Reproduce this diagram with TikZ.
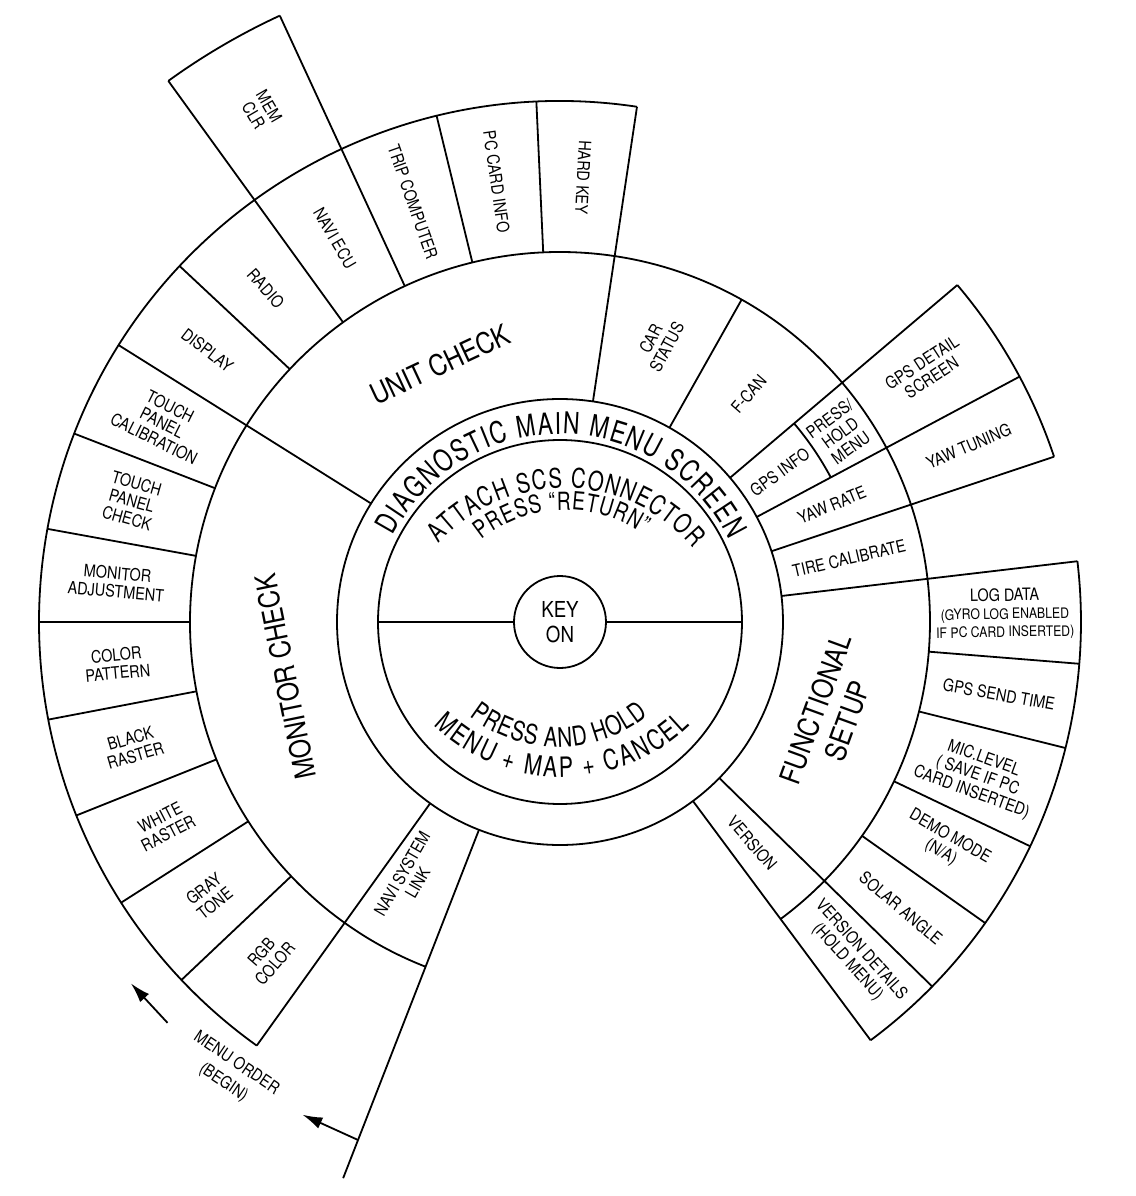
\documentclass[tikz,border=0pt]{standalone}
\usepackage{fontspec}
\setmainfont{TeX Gyre Heros}[FakeStretch=0.85]
\newfontfamily\arcfont{TeX Gyre Heros}[FakeStretch=0.76]
\usetikzlibrary{arrows.meta, decorations.text}
\tikzset{
  boxlbl/.style={font=\fontsize{8.5}{9}\selectfont, align=center, inner sep=0pt},
  ringlbl/.style={font=\fontsize{14.5}{17}\selectfont, align=center, inner sep=0pt},
  arclbl/.style={decorate, decoration={text along path, text align=fit to path, text={#1}}}
}

\begin{document}
\begin{tikzpicture}[x=0.5pt, y=0.5pt, line width=0.9pt]
    \useasboundingbox (-560,-574) rectangle (576,622);
    % hub
    \node[circle, draw, minimum size=46pt, inner sep=0pt, align=center,
      font=\fontsize{11}{12.5}\selectfont] (keyon) at (0,0) {KEY\\ON};
    \draw (0,0) circle[radius=182];
    \draw (0,0) circle[radius=223];
    \coordinate (hubW) at (180:182);
    \coordinate (hubE) at (0:182);
    \draw (keyon.west) -- (hubW);
    \draw (keyon.east) -- (hubE);
    % arcs
    \foreach \a/\b/\r in {-53.4/248.7/370, -53.4/6.7/521, 18.5/40.3/521,
        81.5/234.4/521, 114.8/125.9/668, 28.1/40.3/307} {
      \draw (\a:\r) arc[start angle=\a, end angle=\b, radius=\r];
    }
    % spokes
    \foreach \a/\ri/\ro in {81.5/223/521, 40.3/223/521, 28.1/223/521,
        18.5/223/521, 6.7/223/521, -44.4/223/521, -53.4/223/521,
        147.9/223/521, 234.4/223/521, 60.6/223/370,
        92.6/370/521, 103.7/370/521, 136.9/370/521, 158.8/370/521,
        169.7/370/521, 180/370/521, 190.8/370/521, 201.8/370/521,
        212.6/370/521, 223.4/370/521, -4.6/370/521, -14/370/521,
        -25.5/370/521, -35.3/370/521, 114.8/370/668, 125.9/370/668,
        248.7/223/597} {
      \draw (\a:\ri) -- (\a:\ro);
    }
    % ring texts (centre x/y, radius, from, to)
    \path[arclbl={|\arcfont\fontsize{15}{15}\selectfont|DIAGNOSTIC MAIN MENU SCREEN}]
      (152.6:188) arc[start angle=152.6, end angle=25.9, radius=188];
    \path[arclbl={|\arcfont\fontsize{13.5}{13.5}\selectfont|ATTACH SCS CONNECTOR}]
      ({4+169*cos(138)},{-35+169*sin(138)}) arc[start angle=138, end angle=40, radius=169];
    \path[arclbl={|\arcfont\fontsize{12.5}{12.5}\selectfont|PRESS “RETURN”}]
      ({6+134*cos(129)},{-22+134*sin(129)}) arc[start angle=129, end angle=55, radius=134];
    \path[arclbl={|\arcfont\fontsize{13.5}{13.5}\selectfont|PRESS AND HOLD}]
      ({-2+143*cos(232)},{18+143*sin(232)}) arc[start angle=232, end angle=309, radius=143];
    \path[arclbl={|\arcfont\fontsize{14}{14}\selectfont|MENU + MAP + CANCEL}]
      ({2+185*cos(226)},{30+185*sin(226)}) arc[start angle=226, end angle=314, radius=185];
    % sections
    \node[ringlbl, rotate=25] (unitchk) at (115:284) {UNIT CHECK};
    \node[ringlbl, rotate=101.5] (monchk) at (191.3:280) {MONITOR CHECK};
    \node[ringlbl, rotate=70] (funcsetup) at (-18.9:287) {FUNCTIONAL\\SETUP};
    % left boxes
    \foreach \n/\a/\txt in {hardkey/87/{HARD KEY}, pccard/98.2/{PC CARD INFO},
        tripcomp/109.3/{TRIP COMPUTER}, naviecu/120.4/{NAVI ECU},
        radio/131.4/{RADIO}, display/142.4/{DISPLAY},
        tpcal/153.4/{TOUCH\\PANEL\\CALIBRATION}, tpchk/164.2/{TOUCH\\PANEL\\CHECK},
        monadj/174.9/{MONITOR\\ADJUSTMENT}, colpat/185.4/{COLOR\\PATTERN},
        blkras/196.3/{BLACK\\RASTER}, whtras/207.2/{WHITE\\RASTER},
        graytone/218/{GRAY\\TONE}, rgbcol/229/{RGB\\COLOR}} {
      \node[boxlbl, rotate=\a-180] (\n) at (\a:445) {\txt};
    }
    \node[boxlbl, rotate=-59.7] (memclr) at (120.3:592) {MEM\\CLR};
    \node[boxlbl, rotate=60] (navilink) at (239.6:297) {NAVI SYSTEM\\LINK};
    % right boxes
    \foreach \n/\a/\r/\t/\txt in {carstatus/70.5/296/62/{CAR\\STATUS},
        fcan/50.4/296/49/{F-CAN}, gpsinfo/34.3/266/36/{GPS INFO},
        presshold/34/338/36/{PRESS/\\HOLD\\MENU},
        gpsdetail/34.5/445/33/{GPS DETAIL\\SCREEN},
        yawtune/23.3/445/23/{YAW TUNING}, yawrate/23.3/296/22.5/{YAW RATE},
        tirecal/12.4/296/13/{TIRE CALIBRATE}, gpssend/-9.4/445/-10/{GPS SEND TIME},
        miclevel/-20.2/445/-20/{MIC.LEVEL\\( SAVE IF PC\\CARD INSERTED)},
        demomode/-30/445/-30/{DEMO MODE\\(N/A)}, solar/-40/445/-40/{SOLAR ANGLE},
        verdet/-48.6/445/-48/{VERSION DETAILS\\(HOLD MENU)},
        version/-49/293/-49/{VERSION}} {
      \node[boxlbl, rotate=\t] (\n) at (\a:\r) {\txt};
    }
    \node[boxlbl, rotate=1] (logdata) at (1:445)
      {LOG DATA\\{\fontsize{7.2}{8.6}\selectfont (GYRO LOG ENABLED}\\
       {\fontsize{7.2}{8.6}\selectfont IF PC CARD INSERTED)}};
    % menu order
    \node[boxlbl, rotate=-34, font=\fontsize{8.5}{11.5}\selectfont] (menuorder)
      at (233.8:559) {MENU ORDER\\(BEGIN)};
    \coordinate (ordAs) at (248.7:556);
    \coordinate (ordAe) at (242.4:556);
    \coordinate (ordBs) at (225.6:561);
    \coordinate (ordBe) at (220.1:561);
    \draw[-{Latex[length=10pt, width=6pt]}] (ordAs) -- (ordAe);
    \draw[-{Latex[length=10pt, width=6pt]}] (ordBs) -- (ordBe);
\end{tikzpicture}
\end{document}
